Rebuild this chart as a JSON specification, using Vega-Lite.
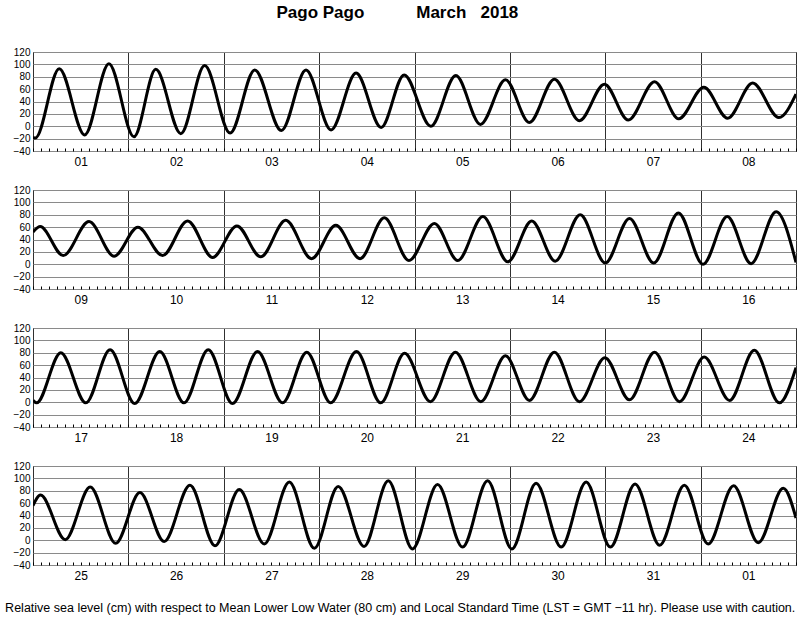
{
  "$schema": "https://vega.github.io/schema/vega-lite/v6.json",
  "background": "white",
  "padding": {"left": 3, "top": 4, "right": 4, "bottom": 4},
  "title": {
    "text": "Pago Pago\u00a0\u00a0\u00a0\u00a0\u00a0\u00a0\u00a0\u00a0\u00a0\u00a0\u00a0March\u00a0\u00a0\u00a02018",
    "font": "Liberation Sans",
    "fontSize": 17,
    "fontWeight": "bold",
    "color": "black",
    "anchor": "middle",
    "offset": 24.5,
    "dx": -3
  },
  "data": {
    "values": [
      {"t": 0, "h": -18}, {"t": 0.6, "h": -19}, {"t": 6.6, "h": 93}, {"t": 13.0, "h": -14}, {"t": 19.1, "h": 101},
      {"t": 25.4, "h": -17}, {"t": 30.9, "h": 92}, {"t": 37.2, "h": -12}, {"t": 43.2, "h": 98}, {"t": 49.6, "h": -11},
      {"t": 55.8, "h": 91}, {"t": 62.5, "h": -7}, {"t": 68.7, "h": 91}, {"t": 75.0, "h": -6}, {"t": 81.3, "h": 86},
      {"t": 87.6, "h": -2}, {"t": 93.4, "h": 83}, {"t": 100.1, "h": 0}, {"t": 106.4, "h": 82}, {"t": 112.6, "h": 3},
      {"t": 118.9, "h": 75}, {"t": 124.9, "h": 6}, {"t": 131.2, "h": 76}, {"t": 137.5, "h": 9}, {"t": 143.8, "h": 68},
      {"t": 149.8, "h": 10}, {"t": 156.4, "h": 72}, {"t": 162.5, "h": 12}, {"t": 168.8, "h": 63}, {"t": 174.8, "h": 13},
      {"t": 181.1, "h": 70}, {"t": 187.7, "h": 14}, {"t": 192, "h": 52},
      {"t": 193.8, "h": 61}, {"t": 199.6, "h": 14}, {"t": 206.1, "h": 69}, {"t": 212.4, "h": 13}, {"t": 218.4, "h": 60},
      {"t": 224.6, "h": 14}, {"t": 230.9, "h": 70}, {"t": 237.2, "h": 11}, {"t": 243.3, "h": 62}, {"t": 249.3, "h": 12},
      {"t": 255.6, "h": 71}, {"t": 262.1, "h": 9}, {"t": 268.2, "h": 63}, {"t": 274.3, "h": 9}, {"t": 280.4, "h": 75},
      {"t": 286.6, "h": 6}, {"t": 293.0, "h": 66}, {"t": 298.9, "h": 6}, {"t": 305.2, "h": 77}, {"t": 311.5, "h": 4},
      {"t": 317.5, "h": 70}, {"t": 323.4, "h": 5}, {"t": 329.7, "h": 80}, {"t": 336.0, "h": 2}, {"t": 342.1, "h": 74},
      {"t": 348.2, "h": 2}, {"t": 354.4, "h": 83}, {"t": 360.6, "h": 0}, {"t": 366.7, "h": 77}, {"t": 372.7, "h": 1},
      {"t": 379.0, "h": 85}, {"t": 384, "h": 3},
      {"t": 384.9, "h": -1}, {"t": 391.0, "h": 80}, {"t": 397.3, "h": -1}, {"t": 403.4, "h": 85}, {"t": 409.6, "h": -2},
      {"t": 415.9, "h": 82}, {"t": 422.0, "h": -1}, {"t": 428.1, "h": 85}, {"t": 434.2, "h": -2}, {"t": 440.5, "h": 82},
      {"t": 446.8, "h": -1}, {"t": 452.9, "h": 81}, {"t": 458.9, "h": -1}, {"t": 465.4, "h": 82}, {"t": 471.5, "h": -1},
      {"t": 477.5, "h": 79}, {"t": 484.0, "h": 1}, {"t": 490.3, "h": 81}, {"t": 496.7, "h": 1}, {"t": 502.9, "h": 75},
      {"t": 508.9, "h": 3}, {"t": 515.2, "h": 81}, {"t": 521.5, "h": 1}, {"t": 527.9, "h": 72}, {"t": 534.1, "h": 4},
      {"t": 540.4, "h": 81}, {"t": 546.7, "h": 1}, {"t": 552.9, "h": 73}, {"t": 559.3, "h": 3}, {"t": 565.5, "h": 84},
      {"t": 571.8, "h": -1}, {"t": 576, "h": 56},
      {"t": 577.9, "h": 73}, {"t": 584.1, "h": 1}, {"t": 590.4, "h": 86}, {"t": 596.8, "h": -5}, {"t": 602.9, "h": 77},
      {"t": 609.0, "h": -2}, {"t": 615.5, "h": 89}, {"t": 621.8, "h": -9}, {"t": 627.9, "h": 82}, {"t": 634.2, "h": -6},
      {"t": 640.5, "h": 94}, {"t": 646.8, "h": -13}, {"t": 652.8, "h": 87}, {"t": 659.3, "h": -10}, {"t": 665.4, "h": 96},
      {"t": 671.5, "h": -14}, {"t": 677.8, "h": 90}, {"t": 684.1, "h": -11}, {"t": 690.4, "h": 96}, {"t": 696.5, "h": -14},
      {"t": 702.6, "h": 92}, {"t": 708.9, "h": -11}, {"t": 715.2, "h": 94}, {"t": 721.3, "h": -11}, {"t": 727.5, "h": 91},
      {"t": 733.7, "h": -8}, {"t": 739.9, "h": 89}, {"t": 745.9, "h": -6}, {"t": 752.3, "h": 88}, {"t": 758.5, "h": -4},
      {"t": 764.8, "h": 84}, {"t": 768, "h": 36}
    ]
  },
  "spacing": 39,
  "bounds": "flush",
  "resolve": {"scale": {"x": "independent"}, "axis": {"x": "independent"}},
  "vconcat": [
    {
      "width": 763, "height": 99,
      "transform": [{"filter": {"field": "t", "range": [0, 192]}}],
      "mark": {"type": "line", "interpolate": "monotone", "color": "black", "strokeWidth": 3, "clip": true},
      "encoding": {
        "x": {"field": "t", "type": "quantitative", "scale": {"domain": [0, 192], "nice": false, "zero": false},
              "axis": {"title": null, "gridOpacity": {"condition": {"test": "datum.value % 24 === 0", "value": 1}, "value": 0}}},
        "y": {"field": "h", "type": "quantitative", "scale": {"domain": [-40, 120], "nice": false},
              "axis": {"title": null, "values": [-40, -20, 0, 20, 40, 60, 80, 100, 120]}}
      }
    },
    {
      "width": 763, "height": 99,
      "transform": [{"filter": {"field": "t", "range": [192, 384]}}],
      "mark": {"type": "line", "interpolate": "monotone", "color": "black", "strokeWidth": 3, "clip": true},
      "encoding": {
        "x": {"field": "t", "type": "quantitative", "scale": {"domain": [192, 384], "nice": false, "zero": false},
              "axis": {"title": null, "gridOpacity": {"condition": {"test": "datum.value % 24 === 0", "value": 1}, "value": 0}}},
        "y": {"field": "h", "type": "quantitative", "scale": {"domain": [-40, 120], "nice": false},
              "axis": {"title": null, "values": [-40, -20, 0, 20, 40, 60, 80, 100, 120]}}
      }
    },
    {
      "width": 763, "height": 99,
      "transform": [{"filter": {"field": "t", "range": [384, 576]}}],
      "mark": {"type": "line", "interpolate": "monotone", "color": "black", "strokeWidth": 3, "clip": true},
      "encoding": {
        "x": {"field": "t", "type": "quantitative", "scale": {"domain": [384, 576], "nice": false, "zero": false},
              "axis": {"title": null, "gridOpacity": {"condition": {"test": "datum.value % 24 === 0", "value": 1}, "value": 0}}},
        "y": {"field": "h", "type": "quantitative", "scale": {"domain": [-40, 120], "nice": false},
              "axis": {"title": null, "values": [-40, -20, 0, 20, 40, 60, 80, 100, 120]}}
      }
    },
    {
      "width": 763, "height": 99,
      "transform": [{"filter": {"field": "t", "range": [576, 768]}}],
      "mark": {"type": "line", "interpolate": "monotone", "color": "black", "strokeWidth": 3, "clip": true},
      "encoding": {
        "x": {"field": "t", "type": "quantitative", "scale": {"domain": [576, 768], "nice": false, "zero": false},
              "axis": {
                "title": "Relative sea level (cm) with respect to Mean Lower Low Water (80 cm) and Local Standard Time (LST = GMT −11 hr). Please use with caution.",
                "titleFont": "Liberation Sans", "titleFontSize": 12.5, "titleFontWeight": "normal", "titleColor": "black",
                "titlePadding": 20, "titleX": 366.7, "titleAlign": "center",
                "gridOpacity": {"condition": {"test": "datum.value % 24 === 0", "value": 1}, "value": 0}}},
        "y": {"field": "h", "type": "quantitative", "scale": {"domain": [-40, 120], "nice": false},
              "axis": {"title": null, "values": [-40, -20, 0, 20, 40, 60, 80, 100, 120]}}
      }
    }
  ],
  "config": {
    "font": "Liberation Sans",
    "view": {"stroke": "black", "strokeWidth": 1},
    "axisX": {
      "tickCount": 96,
      "grid": true,
      "gridColor": "#303030",
      "gridWidth": 1,
      "ticks": true,
      "tickSize": -3,
      "tickColor": "black",
      "tickWidth": 1,
      "domain": false,
      "labelExpr": "datum.value % 24 === 12 ? ((floor(datum.value / 24) % 31 + 1) < 10 ? '0' : '') + (floor(datum.value / 24) % 31 + 1) : ''",
      "labelFont": "Liberation Sans",
      "labelFontSize": 12,
      "labelColor": "black",
      "labelPadding": 8,
      "labelOverlap": false,
      "labelFlush": false,
      "labelBound": false
    },
    "axisY": {
      "grid": true,
      "gridColor": "#8a8a8a",
      "gridWidth": 1,
      "domain": false,
      "ticks": false,
      "labelPadding": 3,
      "labelFont": "Liberation Sans",
      "labelFontSize": 10,
      "labelColor": "black"
    }
  }
}
